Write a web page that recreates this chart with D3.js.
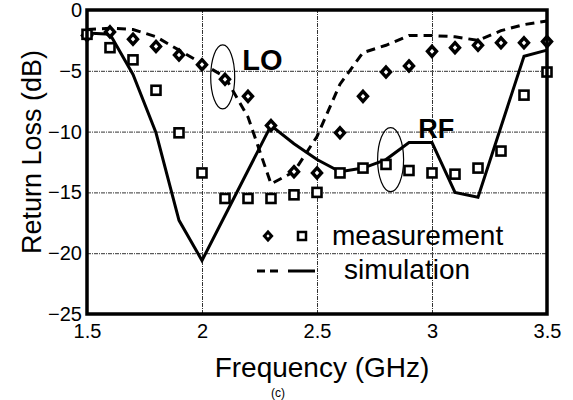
<!DOCTYPE html>
<html>
<head>
<meta charset="utf-8">
<script src="https://cdn.jsdelivr.net/npm/d3@7"></script>
<style>
  body { margin: 0; background: #fff; }
  svg { display: block; font-family: Arial, "Liberation Sans", sans-serif; }
</style>
</head>
<body>
<div id="chart"></div>
<script>
// frequency points (GHz)
var freq = [1.5, 1.6, 1.7, 1.8, 1.9, 2.0, 2.1, 2.2, 2.3, 2.4, 2.5,
            2.6, 2.7, 2.8, 2.9, 3.0, 3.1, 3.2, 3.3, 3.4, 3.5];

// simulation, LO port (dashed)
var simLO = [-1.6, -1.5, -1.6, -2.2, -3.3, -4.4, -5.5, -8.8, -14.3, -13.3, -10.4,
             -6.1, -3.5, -2.9, -2.1, -2.1, -2.2, -2.5, -1.7, -1.2, -0.9];

// simulation, RF port (solid)
var simRF = [-1.9, -2.0, -5.3, -10.1, -17.3, -20.6, -16.9, -13.2, -9.5, -11.0, -12.3,
             -13.3, -13.0, -12.3, -10.9, -10.9, -15.0, -15.4, -9.6, -3.8, -3.3];

// measurement, LO port (diamonds)
var measLO = [-2.1, -1.8, -2.4, -3.0, -3.7, -4.5, -5.7, -7.1, -9.5, -13.3, -13.4,
              -10.1, -7.1, -5.1, -4.6, -3.4, -3.1, -2.9, -2.7, -2.7, -2.6];

// measurement, RF port (squares)
var measRF = [-2.0, -3.1, -4.1, -6.6, -10.1, -13.4, -15.5, -15.5, -15.5, -15.2, -15.0,
              -13.4, -13.0, -12.7, -13.2, -13.4, -13.5, -13.0, -11.6, -7.0, -5.1];

var xTicks = [1.5, 2, 2.5, 3, 3.5];
var yTicks = [0, -5, -10, -15, -20, -25];

var W = 573, H = 400;
var margin = {top: 10, right: 26, bottom: 86, left: 87};
var width = W - margin.left - margin.right,
    height = H - margin.top - margin.bottom;

var svg = d3.select("#chart").append("svg")
    .attr("width", W)
    .attr("height", H);

var g = svg.append("g")
    .attr("transform", "translate(" + margin.left + "," + margin.top + ")");

var x = d3.scaleLinear().domain([1.5, 3.5]).range([0, width]);
var y = d3.scaleLinear().domain([-25, 0]).range([height, 0]);

// grid
g.append("g")
    .attr("class", "grid")
    .call(d3.axisLeft(y).tickValues(yTicks.slice(1, 5)).tickSize(-width).tickFormat(""))
    .call(function (s) { s.select(".domain").remove(); });
g.append("g")
    .attr("class", "grid")
    .attr("transform", "translate(0," + height + ")")
    .call(d3.axisBottom(x).tickValues(xTicks.slice(1, 4)).tickSize(-height).tickFormat(""))
    .call(function (s) { s.select(".domain").remove(); });
g.selectAll(".grid line")
    .attr("stroke", "#333")
    .attr("stroke-width", 1)
    .attr("stroke-dasharray", "4,1,1,1");

// axes labels
var yAxis = g.append("g")
    .call(d3.axisLeft(y).tickValues(yTicks).tickSize(0).tickPadding(5).tickFormat(d3.format("d")));
yAxis.select(".domain").remove();
yAxis.selectAll("text")
    .attr("font-size", 20)
    .attr("font-family", "Arial, 'Liberation Sans', sans-serif")
    .attr("fill", "#000");

var xAxis = g.append("g")
    .attr("transform", "translate(0," + height + ")")
    .call(d3.axisBottom(x).tickValues(xTicks).tickSize(0).tickPadding(10).tickFormat(function (d) { return String(d); }));
xAxis.select(".domain").remove();
xAxis.selectAll("text")
    .attr("font-size", 20)
    .attr("font-family", "Arial, 'Liberation Sans', sans-serif")
    .attr("fill", "#000");

// simulation lines
var simLine = d3.line()
    .x(function (d, i) { return x(freq[i]); })
    .y(function (d) { return y(d); });

g.append("path")
    .datum(simLO)
    .attr("d", simLine)
    .attr("fill", "none")
    .attr("stroke", "#000")
    .attr("stroke-width", 3)
    .attr("stroke-dasharray", "9,6");

g.append("path")
    .datum(simRF)
    .attr("d", simLine)
    .attr("fill", "none")
    .attr("stroke", "#000")
    .attr("stroke-width", 3);

// measurement markers
var diamond = "M0,-5L4.5,0L0,5L-4.5,0Z";

g.selectAll(".dia")
    .data(measLO)
    .enter().append("path")
    .attr("class", "dia")
    .attr("d", diamond)
    .attr("transform", function (d, i) { return "translate(" + x(freq[i]) + "," + y(d) + ")"; })
    .attr("fill", "#fff")
    .attr("stroke", "#000")
    .attr("stroke-width", 3.4);

g.selectAll(".sq")
    .data(measRF)
    .enter().append("rect")
    .attr("class", "sq")
    .attr("x", function (d, i) { return x(freq[i]) - 4.5; })
    .attr("y", function (d) { return y(d) - 4.5; })
    .attr("width", 9)
    .attr("height", 9)
    .attr("fill", "#fff")
    .attr("stroke", "#000")
    .attr("stroke-width", 2.6);

// frame
g.append("rect")
    .attr("width", width)
    .attr("height", height)
    .attr("fill", "none")
    .attr("stroke", "#000")
    .attr("stroke-width", 3.5);

// annotations
g.append("ellipse")
    .attr("cx", x(2.09)).attr("cy", y(-5.5))
    .attr("rx", 12).attr("ry", 32)
    .attr("fill", "none").attr("stroke", "#000").attr("stroke-width", 1.2);
g.append("text")
    .attr("x", x(2.175)).attr("y", y(-4.9))
    .attr("font-size", 29).attr("font-weight", "bold")
    .text("LO");

g.append("ellipse")
    .attr("cx", x(2.82)).attr("cy", y(-12.3))
    .attr("rx", 13).attr("ry", 32)
    .attr("fill", "none").attr("stroke", "#000").attr("stroke-width", 1.2);
g.append("text")
    .attr("x", x(2.94)).attr("y", y(-10.5))
    .attr("font-size", 27).attr("font-weight", "bold")
    .text("RF");

// legend
var leg = g.append("g");
leg.append("path")
    .attr("d", "M0,-4L3.6,0L0,4L-3.6,0Z")
    .attr("transform", "translate(" + (268 - margin.left) + "," + (236 - margin.top) + ")")
    .attr("fill", "#fff").attr("stroke", "#000").attr("stroke-width", 3);
leg.append("rect")
    .attr("x", 302 - margin.left - 4).attr("y", 236 - margin.top - 4)
    .attr("width", 8).attr("height", 8)
    .attr("fill", "#fff").attr("stroke", "#000").attr("stroke-width", 2.5);
leg.append("text")
    .attr("x", 332 - margin.left).attr("y", 245 - margin.top)
    .attr("font-size", 28)
    .text("measurement");
leg.append("line")
    .attr("x1", 257 - margin.left).attr("x2", 282 - margin.left)
    .attr("y1", 271 - margin.top).attr("y2", 271 - margin.top)
    .attr("stroke", "#000").attr("stroke-width", 3).attr("stroke-dasharray", "8,5");
leg.append("line")
    .attr("x1", 288 - margin.left).attr("x2", 315 - margin.left)
    .attr("y1", 271 - margin.top).attr("y2", 271 - margin.top)
    .attr("stroke", "#000").attr("stroke-width", 3);
leg.append("text")
    .attr("x", 344 - margin.left).attr("y", 279 - margin.top)
    .attr("font-size", 28)
    .text("simulation");

// axis titles
svg.append("text")
    .attr("x", 322).attr("y", 377)
    .attr("text-anchor", "middle")
    .attr("font-size", 28)
    .text("Frequency (GHz)");

svg.append("text")
    .attr("transform", "translate(41,152) rotate(-90)")
    .attr("text-anchor", "middle")
    .attr("font-size", 27)
    .text("Return Loss (dB)");

svg.append("text")
    .attr("x", 278).attr("y", 397)
    .attr("text-anchor", "middle")
    .attr("font-size", 12)
    .text("(c)");
</script>
</body>
</html>
